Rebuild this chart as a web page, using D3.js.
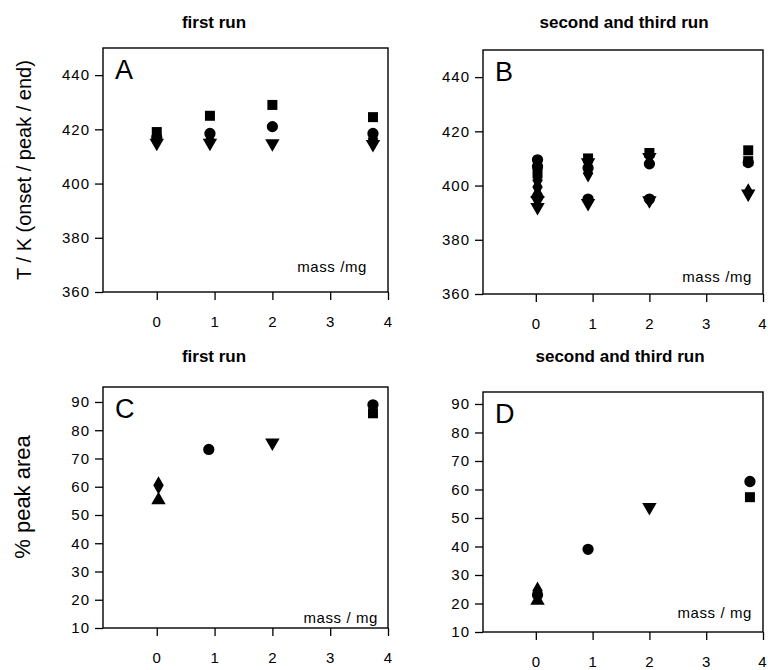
<!DOCTYPE html>
<html><head><meta charset="utf-8">
<script src="https://cdn.jsdelivr.net/npm/d3@7"></script>
<style>
body{margin:0;background:#fff;}
text{font-family:"Liberation Sans",Arial,sans-serif;fill:#000;}
</style></head>
<body><svg id="c" width="768" height="670"></svg>
<script>
// ---- data (mass / mg, value) ----
const xTicks = [0, 1, 2, 3, 4];
const tTicks = [360, 380, 400, 420, 440];
const pTicks = [10, 20, 30, 40, 50, 60, 70, 80, 90];
const panelTitles = ["first run", "second and third run", "first run", "second and third run"];
const panelLetters = ["A", "B", "C", "D"];
const xLabels = ["mass /mg", "mass /mg", "mass / mg", "mass / mg"];

// Panel A: T / K, first run
const aSquares  = [[0, 419], [0.92, 425], [2, 429], [3.74, 424.5]];
const aCircles  = [[0, 417], [0.92, 418.5], [2, 421], [3.74, 418.5]];
const aDiamonds = [[0, 416], [0.92, 416], [3.74, 416.5]];
const aDown     = [[0, 415], [0.92, 415], [2, 414.8], [3.74, 414.5]];

// Panel B: T / K, second and third run
const bSquares  = [[0.03, 404.5], [0.92, 410], [2, 412], [3.74, 413], [3.74, 409]];
const bCircles  = [[0.03, 409.5], [0.03, 407], [0.92, 406.5], [0.92, 395], [2, 408], [2, 395], [3.74, 408.5]];
const bDiamonds = [[0.03, 402], [0.03, 399.5], [0.92, 404.5], [3.74, 397.5]];
const bUp       = [[0.03, 397]];
const bDown     = [[0.03, 394.5], [0.03, 392], [0.92, 408.5], [0.92, 393.5], [2, 410.5], [2, 394.5], [3.74, 397]];

// Panel C: % peak area, first run
const cSquares  = [[3.74, 86]];
const cCircles  = [[0.9, 73.2], [3.74, 89]];
const cDiamonds = [[0.03, 60.5]];
const cUp       = [[0.03, 55.3]];
const cDown     = [[2, 75.6]];

// Panel D: % peak area, second and third run
const dSquares  = [[3.77, 57.3]];
const dCircles  = [[0.03, 23], [0.92, 39], [3.77, 62.8]];
const dDiamonds = [[0.03, 24.5]];
const dUp       = [[0.03, 21]];
const dDown     = [[2, 53.8]];

// ---- drawing ----
const svg = d3.select("#c");
const panels = [
  {box:[103, 388, 48, 292],  y:[360, 450], ticks:tTicks,
   sets:{square:aSquares, circle:aCircles, diamond:aDiamonds, down:aDown},
   lab:[367, 272], tit:[214, 28]},
  {box:[483, 763, 50, 294],  y:[360, 450], ticks:tTicks,
   sets:{square:bSquares, circle:bCircles, diamond:bDiamonds, up:bUp, down:bDown},
   lab:[752, 282], tit:[624, 28]},
  {box:[103, 388, 387, 628], y:[10, 95.3], ticks:pTicks,
   sets:{square:cSquares, circle:cCircles, diamond:cDiamonds, up:cUp, down:cDown},
   lab:[378, 623], tit:[214, 362]},
  {box:[483, 763, 392, 632], y:[10, 94.2], ticks:pTicks,
   sets:{square:dSquares, circle:dCircles, diamond:dDiamonds, up:dUp, down:dDown},
   lab:[752, 618], tit:[620, 362]}
];

const sym = {
  square: d3.symbol().type(d3.symbolSquare).size(100),
  circle: d3.symbol().type(d3.symbolCircle).size(100),
  diamond: d3.symbol().type(d3.symbolDiamond).size(95),
  up: d3.symbol().type(d3.symbolTriangle).size(90),
  down: d3.symbol().type(d3.symbolTriangle).size(90)
};

panels.forEach((p, i) => {
  const [l, r, t, b] = p.box;
  const x = d3.scaleLinear().domain([-0.93, 4]).range([l, r]);
  const y = d3.scaleLinear().domain(p.y).range([b, t]);
  const g = svg.append("g");

  g.append("rect").attr("x", l).attr("y", t).attr("width", r - l).attr("height", b - t)
    .attr("fill", "none").attr("stroke", "#000").attr("stroke-width", 1.4);

  const ya = g.append("g").attr("transform", `translate(${l},0)`)
    .call(d3.axisLeft(y).tickValues(p.ticks).tickFormat(d3.format("d")).tickSize(8).tickPadding(5).tickSizeOuter(0));
  const xa = g.append("g").attr("transform", `translate(0,${b})`)
    .call(d3.axisBottom(x).tickValues(xTicks).tickFormat(d3.format("d")).tickSize(8).tickPadding(16).tickSizeOuter(0));
  [ya, xa].forEach(a => {
    a.select(".domain").remove();
    a.selectAll("line").attr("stroke", "#000").attr("stroke-width", 1.3);
    a.selectAll("text").attr("font-size", 15).attr("letter-spacing", 1)
      .attr("font-family", "Liberation Sans, Arial, sans-serif").attr("fill", "#000");
  });
  if (i % 2 === 1) xa.selectAll("text").filter(d => d === 4).attr("text-anchor", "end").attr("dx", 4);

  Object.entries(p.sets).forEach(([k, pts]) => {
    g.selectAll(null).data(pts).enter().append("path")
      .attr("d", sym[k])
      .attr("transform", d => `translate(${x(d[0])},${y(d[1])})` + (k === "down" ? " rotate(180)" : ""))
      .attr("fill", "#000");
  });

  g.append("text").attr("x", l + 12).attr("y", t + 31).attr("font-size", 27).text(panelLetters[i]);
  g.append("text").attr("x", p.lab[0]).attr("y", p.lab[1]).attr("text-anchor", "end")
    .attr("font-size", 15).attr("letter-spacing", 0.6).text(xLabels[i]);
  g.append("text").attr("x", p.tit[0]).attr("y", p.tit[1]).attr("text-anchor", "middle")
    .attr("font-size", 17).attr("font-weight", "bold").text(panelTitles[i]);
});

svg.append("text").attr("transform", "translate(31,170) rotate(-90)").attr("text-anchor", "middle")
  .attr("font-size", 20).text("T / K (onset / peak / end)");
svg.append("text").attr("transform", "translate(30,497) rotate(-90)").attr("text-anchor", "middle")
  .attr("font-size", 22).text("% peak area");
</script></body></html>
